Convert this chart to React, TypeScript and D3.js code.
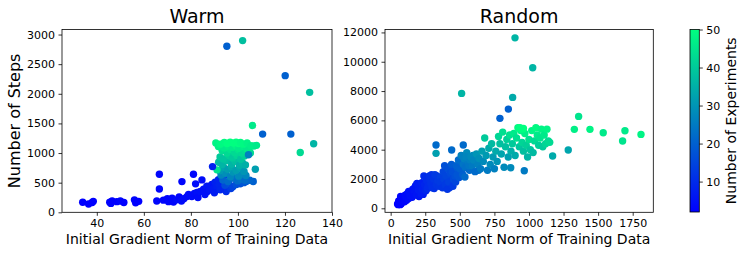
import React, { useEffect, useRef } from 'react';
import * as d3 from 'd3';

// [gradient norm, steps, experiments]
const warmOutliers: [number, number, number][] = [
  [95.3, 2802, 20], [102, 2898, 38], [120.1, 2306, 20], [130.5, 2024, 38],
  [106.2, 1466, 46], [110.5, 1320, 20], [122.5, 1320, 20], [132.2, 1156, 36],
  [126.5, 1008, 43], [107.4, 727, 32], [104.5, 970, 26], [89.2, 771, 8],
];

const warmBand: [number, number, number][] = [
  [34, 170, 2], [36.5, 140, 2], [38, 165, 2], [38.5, 185, 2],
  [45.5, 170, 2], [46, 150, 3], [46.5, 190, 2], [48.5, 180, 2], [50, 190, 3], [51.5, 165, 2],
  [56, 210, 3], [56.5, 160, 2], [57.8, 185, 2],
  [65.5, 190, 3], [66.6, 394, 3], [66.6, 643, 3], [68.3, 205, 3], [70, 230, 3], [70.5, 180, 3],
  [72, 240, 3], [72.6, 175, 3], [74, 210, 4], [75, 260, 3], [76.2, 518, 3], [76, 190, 4],
  [77, 230, 4], [78.3, 265, 4], [79, 300, 4], [80.4, 265, 4], [81.1, 643, 3], [81.5, 320, 4],
  [82, 480, 4], [82.6, 333, 5], [83, 250, 4], [84, 350, 5], [84.7, 547, 4], [85.4, 390, 5],
  [86, 300, 5], [86.8, 440, 6], [87, 350, 5], [88, 380, 6], [88.9, 470, 6], [89.5, 400, 7],
  [90.3, 510, 8], [91, 430, 8], [91.7, 550, 9], [92, 470, 9], [93.2, 580, 10], [94.6, 640, 12],
  [95, 350, 10], [94, 420, 10], [90, 330, 7], [92.5, 380, 9], [97, 400, 13],
  [103.5, 520, 20], [106.5, 520, 20], [105, 540, 21],
];

const warmCluster: [number, number, number][] = [
  [94.5, 455, 16], [96.2, 490, 17], [97.8, 430, 15], [99.3, 470, 17], [101, 480, 17], [102.5, 500, 18],
  [93.6, 545, 21], [95.8, 520, 22], [98.2, 575, 23], [99.9, 530, 22], [101.3, 560, 23], [103, 540, 22],
  [92.8, 630, 27], [94.7, 660, 29], [96.8, 600, 27], [97.9, 680, 30], [100.3, 610, 28], [101.8, 650, 28], [103.4, 620, 27],
  [92.3, 700, 31], [93.9, 760, 33], [95.7, 725, 32], [97.2, 770, 34], [99.2, 710, 32], [100.8, 755, 33], [102.6, 690, 30],
  [91.1, 716, 45],
  [91.8, 845, 37], [93.3, 805, 36], [95.2, 870, 38], [97.4, 815, 36], [98.8, 860, 38], [100.7, 795, 35], [101.9, 835, 36], [103.2, 800, 35],
  [92.4, 935, 40], [93.8, 900, 39], [96.3, 955, 41], [97.7, 915, 40], [99.6, 960, 42], [101.2, 895, 39], [102.8, 950, 41],
  [93.3, 1045, 44], [95.3, 1000, 43], [96.8, 1060, 45], [98.6, 1010, 43], [100.2, 1055, 45], [101.7, 1000, 43], [103.1, 1040, 44], [105.3, 1000, 43],
  [91.7, 1110, 47], [94.2, 1085, 46], [95.9, 1120, 47], [97.6, 1095, 46], [99.2, 1125, 48], [100.4, 1080, 46], [102.3, 1110, 47], [103.8, 1070, 46], [104.9, 1095, 46], [106.8, 1120, 45],
  [90.6, 1170, 48], [92.5, 1150, 49], [94.2, 1178, 49], [95.4, 1160, 50], [96.7, 1182, 50], [98.1, 1168, 50], [99.2, 1185, 50],
  [100.2, 1160, 50], [101.1, 1178, 49], [102.3, 1150, 49], [103.9, 1170, 48], [105.5, 1125, 47], [107.9, 1130, 46],
];

const randomOutliers: [number, number, number][] = [
  [899, 11630, 36], [1027, 9587, 36], [513, 7840, 36], [882, 7568, 34], [851, 6770, 20],
  [790, 6136, 20], [1359, 6270, 45], [1328, 5386, 47], [1441, 5386, 48], [1537, 5156, 46],
  [1694, 5293, 46], [1677, 4590, 45], [1810, 5044, 48], [1284, 3975, 33], [1171, 3566, 34],
  [966, 2565, 25], [868, 2770, 28], [328, 4316, 22], [328, 3750, 32], [441, 3975, 22],
  [525, 4316, 22], [537, 2134, 22],
];

const randomBand: [number, number, number][] = [
  [50, 300, 2], [55, 250, 2], [60, 400, 2], [65, 350, 2], [70, 550, 3], [75, 300, 2], [80, 700, 3],
  [58, 500, 2], [68, 250, 2], [88, 450, 3], [72, 800, 3], [98, 750, 3], [115, 550, 4], [135, 700, 4],
  [85, 500, 3], [90, 800, 3], [95, 600, 3], [100, 450, 3], [105, 900, 4], [110, 750, 4], [120, 1000, 4],
  [125, 650, 4], [130, 1150, 5], [140, 850, 5], [150, 1000, 5], [160, 1300, 5], [170, 1100, 6],
  [155, 750, 5], [175, 1400, 6], [195, 1100, 6], [205, 800, 6], [215, 1250, 7], [235, 950, 7],
  [180, 1550, 6], [185, 900, 6], [190, 1700, 7], [200, 1250, 7], [210, 1450, 7], [220, 1000, 7],
  [225, 1750, 8], [230, 1300, 8], [240, 2200, 10], [245, 1600, 9], [255, 1200, 9], [260, 1900, 10],
  [265, 1350, 10], [285, 1900, 11], [295, 2300, 12], [305, 1650, 11], [315, 1350, 11], [335, 2200, 13],
  [270, 1500, 10], [280, 2200, 11], [290, 1700, 11], [300, 1400, 11], [310, 2000, 12], [320, 2300, 13],
  [330, 1600, 12], [340, 1900, 13], [350, 1500, 12], [360, 2100, 14], [370, 1800, 13], [380, 2500, 15],
  [355, 1800, 13], [375, 1400, 12], [385, 2000, 14], [405, 1700, 13], [425, 1400, 13], [435, 2000, 15],
  [390, 2900, 17], [395, 1600, 13], [400, 2200, 15], [410, 1300, 12], [415, 2700, 17], [420, 1800, 14],
  [430, 2400, 16], [440, 3000, 19], [450, 1500, 13], [455, 2000, 16], [460, 2600, 18], [470, 1800, 15],
  [445, 2500, 17], [465, 2200, 17], [485, 2700, 19], [495, 2100, 18], [505, 3000, 22], [515, 2500, 21],
  [475, 2900, 20], [480, 2300, 18], [490, 3300, 22], [500, 2700, 20], [510, 3600, 26], [520, 2300, 20],
  [525, 3000, 24], [530, 3400, 26], [540, 2800, 23], [550, 3800, 28], [560, 3200, 25], [570, 2600, 22],
  [545, 3500, 27], [565, 2900, 24], [575, 3300, 26], [595, 3600, 28], [615, 3100, 26], [635, 2600, 23],
  [580, 3500, 28], [590, 2900, 25], [600, 3300, 27], [610, 2500, 22], [620, 3700, 30], [630, 3000, 26],
  [640, 3400, 29], [650, 2700, 25], [660, 3900, 32], [670, 3200, 28], [680, 4800, 40], [690, 3600, 31],
  [700, 2600, 25], [710, 4100, 34], [720, 3000, 28], [730, 4400, 37], [740, 3500, 31], [750, 2700, 26],
  [760, 3900, 34], [770, 3200, 30], [780, 4900, 42], [790, 4400, 38], [800, 3700, 33], [810, 5200, 44],
  [820, 2800, 28], [830, 4200, 38], [840, 4700, 41], [850, 3500, 32], [860, 5000, 44], [870, 3900, 35],
  [880, 4400, 40], [890, 5100, 46], [900, 3600, 34], [910, 4800, 44], [920, 5500, 49], [930, 4200, 39],
  [940, 5300, 48], [950, 4500, 42], [960, 3900, 38], [970, 5100, 47], [980, 4300, 41], [990, 3500, 36],
  [1000, 4700, 44], [1010, 4000, 39], [1020, 5300, 48], [1030, 3800, 37], [1040, 4600, 43], [1050, 5500, 49],
  [1060, 5000, 46], [1070, 4300, 41], [1080, 4800, 45], [1090, 5400, 48], [1100, 4200, 40], [1110, 5000, 46],
  [1120, 4400, 42], [1130, 5400, 48], [1140, 4600, 43], [1150, 4500, 43],
  [935, 5500, 50], [950, 5400, 50], [960, 5450, 50],
];

const warmXTicks = [40, 60, 80, 100, 120, 140];
const warmYTicks = [0, 500, 1000, 1500, 2000, 2500, 3000];
const randomXTicks = [0, 250, 500, 750, 1000, 1250, 1500, 1750];
const randomYTicks = [0, 2000, 4000, 6000, 8000, 10000, 12000];
const cbarTicks = [10, 20, 30, 40, 50];

const FONT = 'DejaVu Sans, sans-serif';
const cmin = 2, cmax = 50;
const winter = (c: number) => {
  const t = Math.max(0, Math.min(1, (c - cmin) / (cmax - cmin)));
  return d3.rgb(0, 255 * t, 255 * (1 - 0.5 * t)).toString();
};

function panel(svg: any, opts: any) {
  const { left, right, top, bottom, xDomain, yDomain, xTicks, yTicks, points, title, ylabel } = opts;
  const x = d3.scaleLinear().domain(xDomain).range([left, right]);
  const y = d3.scaleLinear().domain(yDomain).range([bottom, top]);
  const g = svg.append('g');

  g.append('clipPath').attr('id', 'clip' + title)
    .append('rect').attr('x', left).attr('y', top).attr('width', right - left).attr('height', bottom - top);

  g.append('g').attr('clip-path', `url(#clip${title})`)
    .selectAll('circle').data(points).enter().append('circle')
    .attr('cx', (d: any) => x(d[0])).attr('cy', (d: any) => y(d[1]))
    .attr('r', 3.7).attr('fill', (d: any) => winter(d[2]));

  const xAxis = d3.axisBottom(x).tickValues(xTicks).tickSize(3.5).tickPadding(3.5).tickFormat(d3.format('d'));
  const yAxis = d3.axisLeft(y).tickValues(yTicks).tickSize(3.5).tickPadding(3.5).tickFormat(d3.format('d'));
  const ax = g.append('g').attr('transform', `translate(0,${bottom})`).call(xAxis);
  const ay = g.append('g').attr('transform', `translate(${left},0)`).call(yAxis);
  [ax, ay].forEach((a: any) => {
    a.select('.domain').remove();
    a.selectAll('line').attr('stroke', '#000').attr('stroke-width', 0.8);
    a.selectAll('text').attr('font-family', FONT).attr('font-size', 11).attr('fill', '#000');
  });

  g.append('rect').attr('x', left).attr('y', top).attr('width', right - left).attr('height', bottom - top)
    .attr('fill', 'none').attr('stroke', '#000').attr('stroke-width', 0.8);

  g.append('text').attr('x', (left + right) / 2).attr('y', 23).attr('text-anchor', 'middle')
    .attr('font-family', FONT).attr('font-size', 19).text(title);
  g.append('text').attr('x', (left + right) / 2).attr('y', 243.5).attr('text-anchor', 'middle')
    .attr('font-family', FONT).attr('font-size', 14).text('Initial Gradient Norm of Training Data');
  if (ylabel) {
    g.append('text').attr('transform', `translate(20,${(top + bottom) / 2}) rotate(-90)`)
      .attr('text-anchor', 'middle').attr('font-family', FONT).attr('font-size', 16).text(ylabel);
  }
}

export default function App() {
  const ref = useRef<SVGSVGElement>(null);

  useEffect(() => {
    const svg = d3.select(ref.current);
    svg.selectAll('*').remove();

    panel(svg, {
      left: 62, right: 332, top: 29.5, bottom: 212.3,
      xDomain: [25.2, 140], yDomain: [0, 3085],
      xTicks: warmXTicks, yTicks: warmYTicks,
      points: [...warmBand, ...warmCluster, ...warmOutliers],
      title: 'Warm', ylabel: 'Number of Steps',
    });
    panel(svg, {
      left: 385, right: 653.3, top: 29.5, bottom: 212.3,
      xDomain: [-41, 1899], yDomain: [-273, 12200],
      xTicks: randomXTicks, yTicks: randomYTicks,
      points: [...randomBand, ...randomOutliers],
      title: 'Random', ylabel: null,
    });

    // colorbar
    const cb = { left: 690, right: 699.3, top: 29.5, bottom: 212 };
    const defs = svg.append('defs');
    const grad = defs.append('linearGradient').attr('id', 'winterGrad')
      .attr('x1', 0).attr('y1', 1).attr('x2', 0).attr('y2', 0);
    d3.range(0, 1.0001, 0.1).forEach(t => {
      grad.append('stop').attr('offset', t).attr('stop-color', winter(cmin + t * (cmax - cmin)));
    });
    svg.append('rect').attr('x', cb.left).attr('y', cb.top).attr('width', cb.right - cb.left)
      .attr('height', cb.bottom - cb.top).attr('fill', 'url(#winterGrad)')
      .attr('stroke', '#000').attr('stroke-width', 0.8);
    const cy = d3.scaleLinear().domain([cmin, cmax]).range([cb.bottom, cb.top]);
    const cAxis = d3.axisRight(cy).tickValues(cbarTicks).tickSize(3.5).tickPadding(3.5);
    const ca = svg.append('g').attr('transform', `translate(${cb.right},0)`).call(cAxis);
    ca.select('.domain').remove();
    ca.selectAll('line').attr('stroke', '#000').attr('stroke-width', 0.8);
    ca.selectAll('text').attr('font-family', FONT).attr('font-size', 11).attr('fill', '#000');
    svg.append('text').attr('transform', `translate(736,${(cb.top + cb.bottom) / 2}) rotate(-90)`)
      .attr('text-anchor', 'middle').attr('font-family', FONT).attr('font-size', 14)
      .text('Number of Experiments');
  }, []);

  return (
    <svg ref={ref} width={747} height={257}
      style={{ position: 'absolute', left: 0, top: 0, background: '#fff' }} />
  );
}
